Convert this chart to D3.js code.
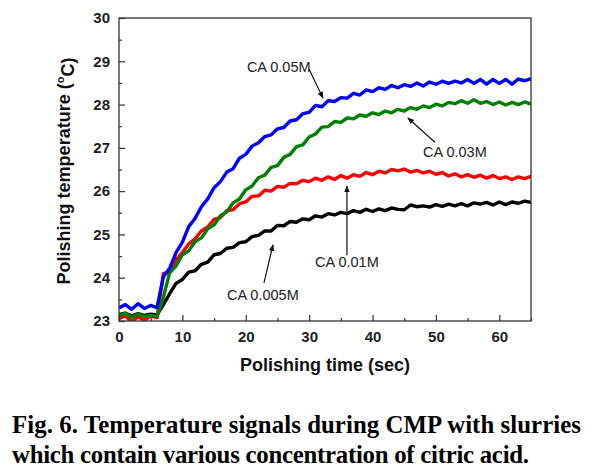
<!DOCTYPE html>
<html><head><meta charset="utf-8">
<script src="https://cdn.jsdelivr.net/npm/d3@7"></script>
<style>
html,body{margin:0;padding:0;background:#fff;}
svg{display:block;}
.tick text{font-family:"Liberation Sans",Arial,sans-serif;font-weight:bold;font-size:15px;fill:#222;}
</style></head>
<body>
<svg id="chart" width="596" height="473"></svg>
<script>
// ---- data ----
const timeSec = [0,1,2,3,4,5,6,7,8,9,10,11,12,13,14,15,16,17,18,19,20,21,22,23,24,25,26,27,28,29,30,31,32,33,34,35,36,37,38,39,40,41,42,43,44,45,46,47,48,49,50,51,52,53,54,55,56,57,58,59,60,61,62,63,64,65];
const ca0005 = [23.15,23.18,23.12,23.17,23.13,23.16,23.14,23.38,23.63,23.87,23.96,24.13,24.16,24.31,24.36,24.53,24.56,24.68,24.70,24.81,24.83,24.95,24.98,25.08,25.08,25.21,25.20,25.30,25.28,25.36,25.34,25.43,25.40,25.48,25.45,25.51,25.48,25.55,25.51,25.58,25.53,25.59,25.55,25.61,25.58,25.57,25.68,25.64,25.66,25.63,25.69,25.65,25.70,25.66,25.71,25.66,25.73,25.70,25.74,25.68,25.75,25.69,25.75,25.72,25.77,25.74];
const ca001  = [23.05,23.12,22.98,23.10,23.01,23.12,23.08,24.10,24.12,24.42,24.58,24.78,24.90,25.08,25.17,25.35,25.39,25.55,25.57,25.71,25.75,25.88,25.89,26.02,26.00,26.11,26.09,26.18,26.17,26.25,26.22,26.30,26.25,26.33,26.27,26.36,26.30,26.38,26.34,26.43,26.38,26.46,26.42,26.50,26.47,26.51,26.44,26.48,26.42,26.46,26.39,26.43,26.35,26.40,26.33,26.38,26.32,26.37,26.30,26.36,26.29,26.33,26.27,26.33,26.29,26.34];
const ca003  = [23.12,23.18,23.08,23.16,23.10,23.13,23.09,23.55,24.12,24.27,24.53,24.62,24.83,24.92,25.13,25.22,25.43,25.52,25.73,25.82,26.03,26.12,26.31,26.37,26.55,26.59,26.78,26.85,27.03,27.07,27.25,27.32,27.48,27.49,27.61,27.59,27.69,27.67,27.76,27.73,27.81,27.77,27.85,27.81,27.89,27.85,27.93,27.89,27.97,27.93,28.01,27.97,28.05,28.02,28.09,28.03,28.11,28.03,28.07,28.00,28.06,27.99,28.05,28.00,28.06,28.01];
const ca005  = [23.30,23.38,23.27,23.40,23.29,23.36,23.31,24.02,24.22,24.58,
                24.82,25.18,25.37,25.64,25.82,26.08,26.22,26.44,26.52,26.76,
                26.85,27.04,27.12,27.26,27.30,27.44,27.47,27.62,27.65,27.79,
                27.82,27.98,27.95,28.09,28.07,28.16,28.15,28.26,28.22,28.34,
                28.30,28.39,28.35,28.44,28.39,28.46,28.42,28.50,28.43,28.52,
                28.47,28.54,28.49,28.54,28.50,28.58,28.49,28.58,28.47,28.58,
                28.49,28.58,28.47,28.59,28.55,28.60];
const seriesNames = ["CA 0.005M","CA 0.01M","CA 0.03M","CA 0.05M"];
const seriesColors = ["#000000","#ff0000","#008000","#0000ff"];
const xTicks = [0,10,20,30,40,50,60];
const yTicks = [23,24,25,26,27,28,29,30];
// annotation anchors in data units: [label, labelT, labelV, arrowFromT, arrowFromV, arrowToT, arrowToV]
const annotations = [
  ["CA 0.05M", 25.2, 28.75, 29.97, 28.82, 32.18, 28.15],
  ["CA 0.03M", 53.0, 26.79, 49.84, 27.13, 45.58, 27.69],
  ["CA 0.01M", 35.96, 24.25, 35.96, 24.52, 35.96, 26.12],
  ["CA 0.005M", 22.7, 23.48, 22.87, 23.88, 24.29, 24.76]
];

const svg = d3.select("#chart");
const L = 119, R = 531, T = 18, B = 321;
const x = d3.scaleLinear().domain([0,65]).range([L,R]);
const y = d3.scaleLinear().domain([23,30]).range([B,T]);

svg.append("defs").append("clipPath").attr("id","clip")
  .append("rect").attr("x",L).attr("y",T).attr("width",R-L).attr("height",B-T);
svg.select("defs").append("marker").attr("id","arr")
  .attr("viewBox","0 0 10 10").attr("refX",9).attr("refY",5)
  .attr("markerWidth",7).attr("markerHeight",7).attr("orient","auto-start-reverse")
  .attr("markerUnits","userSpaceOnUse")
  .append("path").attr("d","M0,1 L10,5 L0,9 Z").attr("fill","#111");

// series
const allSeries = [ca0005, ca001, ca003, ca005];
const line = d3.line().x((d,i)=>x(timeSec[i])).y(d=>y(d));
const g = svg.append("g").attr("clip-path","url(#clip)");
allSeries.forEach((s,k)=>{
  g.append("path").datum(s).attr("d",line).attr("fill","none")
   .attr("stroke",seriesColors[k]).attr("stroke-width",3.4).attr("stroke-linejoin","round");
});

// axes (ticks inside)
const xAxis = d3.axisBottom(x).tickValues(xTicks).tickSize(-6).tickPadding(10).tickFormat(d3.format("d"));
const xMinor = d3.axisBottom(x).tickValues([5,15,25,35,45,55,65]).tickSize(-3).tickFormat("");
const yAxis = d3.axisLeft(y).tickValues(yTicks).tickSize(-6).tickPadding(9).tickFormat(d3.format("d"));
const yMinor = d3.axisLeft(y).tickValues([23.5,24.5,25.5,26.5,27.5,28.5,29.5]).tickSize(-3).tickFormat("");
const gx = svg.append("g").attr("transform",`translate(0,${B})`).call(xAxis);
svg.append("g").attr("transform",`translate(0,${B})`).call(xMinor);
const gy = svg.append("g").attr("transform",`translate(${L},0)`).call(yAxis);
svg.append("g").attr("transform",`translate(${L},0)`).call(yMinor);
svg.selectAll(".domain").remove();
svg.selectAll(".tick line").attr("stroke","#333").attr("stroke-width",1.2);
gx.selectAll(".tick text").attr("dy","0.71em");

svg.append("rect").attr("x",L).attr("y",T).attr("width",R-L).attr("height",B-T)
  .attr("fill","none").attr("stroke","#333").attr("stroke-width",1.3);

// annotations
annotations.forEach(a=>{
  svg.append("text").attr("x",x(a[1])).attr("y",y(a[2])).attr("text-anchor","middle")
    .attr("font-family","'Liberation Sans',Arial,sans-serif").attr("font-size","14.5px").attr("fill","#222")
    .text(a[0]);
  svg.append("line").attr("x1",x(a[3])).attr("y1",y(a[4])).attr("x2",x(a[5])).attr("y2",y(a[6]))
    .attr("stroke","#111").attr("stroke-width",1.2).attr("marker-end","url(#arr)");
});

// axis titles
svg.append("text").attr("x",(L+R)/2).attr("y",371).attr("text-anchor","middle")
  .attr("font-family","'Liberation Sans',Arial,sans-serif").attr("font-weight","bold").attr("font-size","18px").attr("fill","#111")
  .text("Polishing time (sec)");
const yt = svg.append("text").attr("transform","translate(70,171) rotate(-90)").attr("text-anchor","middle")
  .attr("font-family","'Liberation Sans',Arial,sans-serif").attr("font-weight","bold").attr("font-size","18px").attr("fill","#111");
yt.append("tspan").text("Polishing temperature (");
yt.append("tspan").attr("dy","-0.55em").attr("font-size","11px").text("o");
yt.append("tspan").attr("dy","0.55em").text("C)");

// caption
const cap = svg.append("text").attr("font-family","'Liberation Serif','Times New Roman',serif")
  .attr("font-weight","bold").attr("font-size","24.8px").attr("fill","#000");
cap.append("tspan").attr("x",12).attr("y",433).attr("textLength",569).attr("lengthAdjust","spacing")
  .text("Fig. 6. Temperature signals during CMP with slurries");
cap.append("tspan").attr("x",12).attr("y",463).attr("textLength",517).attr("lengthAdjust","spacing")
  .text("which contain various concentration of citric acid.");
</script>
</body></html>
